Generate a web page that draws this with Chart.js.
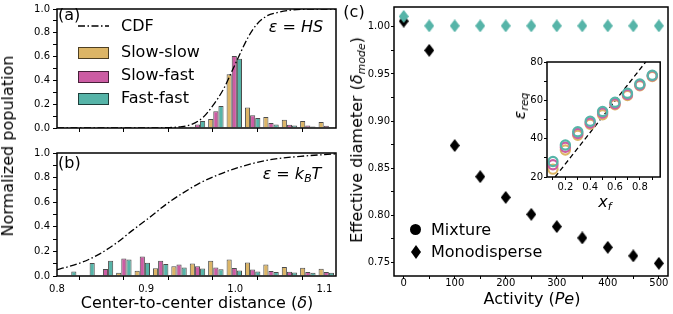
<!DOCTYPE html>
<html>
<head>
<meta charset="utf-8">
<script src="https://cdn.jsdelivr.net/npm/chart.js@4.4.1/dist/chart.umd.min.js"></script>
<style>
  html, body { margin: 0; padding: 0; background: #fff; }
  body { width: 673px; height: 314px; position: relative; overflow: hidden; font-family: "DejaVu Sans", sans-serif; color: #000; }
  .box { position: absolute; }
  .txt { position: absolute; white-space: nowrap; line-height: 1; }
  .c { transform: translate(-50%, -50%); }
  .l { transform: translateY(-50%); }
  .rot { transform: translate(-50%, -50%) rotate(-90deg); }
  sub { font-size: 68%; vertical-align: -0.28em; line-height: 0; }
  .sw { position: absolute; width: 29px; height: 10px; border: 1px solid rgba(0,0,0,0.65); }
</style>
</head>
<body>
<div class="box" style="left:0;top:0;width:340px;height:140px"><canvas id="pa"></canvas></div>
<div class="box" style="left:0;top:140px;width:340px;height:174px"><canvas id="pb"></canvas></div>
<div class="box" style="left:340px;top:0;width:333px;height:314px"><canvas id="pc"></canvas></div>
<div class="box" style="left:505px;top:55px;width:162px;height:145px"><canvas id="pin"></canvas></div>

<!-- panel labels and axis titles -->
<div class="txt rot" style="left:8px;top:146px;font-size:16px">Normalized population</div>
<div class="txt c" style="left:197px;top:303px;font-size:16px">Center-to-center distance (<i>δ</i>)</div>
<div class="txt l" style="left:58px;top:15px;font-size:16px">(a)</div>
<div class="txt c" style="left:296px;top:27px;font-size:16px"><i>ε</i> = <i>HS</i></div>
<div class="txt l" style="left:58px;top:163px;font-size:16px">(b)</div>
<div class="txt c" style="left:292px;top:174px;font-size:16px"><i>ε</i> = <i>k<sub>B</sub>T</i></div>
<div class="txt c" style="left:354px;top:12px;font-size:16px">(c)</div>
<div class="txt rot" style="left:357px;top:140px;font-size:16px">Effective diameter (<i>δ<sub>mode</sub></i>)</div>
<div class="txt c" style="left:532px;top:299px;font-size:16px">Activity (<i>Pe</i>)</div>
<div class="txt rot" style="left:520px;top:106px;font-size:16px"><i>ε<sub>req</sub></i></div>
<div class="txt c" style="left:605px;top:202px;font-size:16px"><i>x<sub>f</sub></i></div>

<!-- legend (a) -->
<svg class="txt" style="left:78px;top:24px" width="31" height="4"><line x1="0" y1="2" x2="31" y2="2" stroke="#000" stroke-width="1.5" stroke-dasharray="7 2.5 1.5 2.5"/></svg>
<div class="sw" style="left:78px;top:47px;background:#dcb566"></div>
<div class="sw" style="left:78px;top:71px;background:#cc5ca3"></div>
<div class="sw" style="left:78px;top:93px;background:#56b4a8"></div>
<div class="txt l" style="left:121px;top:26px;font-size:16px">CDF</div>
<div class="txt l" style="left:121px;top:52px;font-size:16px">Slow-slow</div>
<div class="txt l" style="left:121px;top:75px;font-size:16px">Slow-fast</div>
<div class="txt l" style="left:121px;top:98px;font-size:16px">Fast-fast</div>

<!-- legend (c) -->
<div style="position:absolute;left:410px;top:224px;width:11px;height:11px;border-radius:50%;background:#000"></div>
<svg class="txt" style="left:411px;top:245px" width="10" height="14"><polygon points="5,0 10,7 5,14 0,7" fill="#000"/></svg>
<div class="txt l" style="left:431px;top:230px;font-size:16px">Mixture</div>
<div class="txt l" style="left:431px;top:252px;font-size:16px">Monodisperse</div>

<script>
// histogram bin centres, centre-to-center distance (delta)
const binCenters = [0.8131, 0.8337, 0.8544, 0.8750, 0.8957, 0.9163, 0.9369, 0.9576, 0.9782, 0.9989, 1.0195, 1.0401, 1.0608, 1.0814, 1.1021];

// (a) epsilon = HS
const slowSlowA = [0, 0, 0, 0, 0, 0, 0.003, 0.010, 0.075, 0.452, 0.172, 0.093, 0.070, 0.058, 0.050];
const slowFastA = [0, 0, 0, 0, 0, 0, 0.005, 0.030, 0.140, 0.605, 0.108, 0.043, 0.027, 0.022, 0.018];
const fastFastA = [0, 0, 0, 0, 0, 0, 0.010, 0.058, 0.184, 0.582, 0.085, 0.030, 0.020, 0.012, 0.008];
const cdfAx = [0.80, 0.90, 0.923, 0.938, 0.951, 0.964, 0.975, 0.987, 0.994, 1.002, 1.015, 1.024, 1.035, 1.047, 1.062, 1.092, 1.113];
const cdfAy = [0, 0, 0.003, 0.010, 0.030, 0.090, 0.190, 0.330, 0.440, 0.570, 0.770, 0.870, 0.940, 0.970, 0.990, 1.0, 1.0];

// (b) epsilon = kBT
const slowSlowB = [0, 0, 0.004, 0.026, 0.042, 0.062, 0.080, 0.101, 0.125, 0.135, 0.110, 0.093, 0.074, 0.067, 0.059];
const slowFastB = [0, 0.005, 0.056, 0.142, 0.158, 0.125, 0.094, 0.079, 0.069, 0.066, 0.052, 0.041, 0.034, 0.033, 0.032];
const fastFastB = [0.036, 0.106, 0.125, 0.135, 0.108, 0.097, 0.070, 0.061, 0.054, 0.045, 0.036, 0.032, 0.029, 0.026, 0.026];
const cdfBx = [0.80, 0.8106, 0.829, 0.848, 0.867, 0.885, 0.904, 0.923, 0.942, 0.960, 0.979, 0.998, 1.035, 1.073, 1.113];
const cdfBy = [0.052, 0.071, 0.114, 0.180, 0.270, 0.373, 0.477, 0.586, 0.678, 0.755, 0.817, 0.869, 0.940, 0.973, 0.993];

// (c) effective diameter vs activity
const peValues = [0, 50, 100, 150, 200, 250, 300, 350, 400, 450, 500];
const monoDiam = [1.006, 0.975, 0.874, 0.841, 0.819, 0.801, 0.788, 0.776, 0.766, 0.757, 0.749];
const mixDiam = [1.011, 1.001, 1.001, 1.001, 1.001, 1.001, 1.001, 1.001, 1.001, 1.001, 1.001];

// inset: required epsilon vs fast fraction
const xfValues = [0.1, 0.2, 0.3, 0.4, 0.5, 0.6, 0.7, 0.8, 0.9];
const epsSlowSlow = [24.1, 34.1, 41.8, 47.5, 52.5, 57.7, 62.5, 67.6, 72.4];
const epsSlowFast = [26.4, 35.5, 42.7, 48.2, 53.4, 58.2, 63.0, 68.0, 72.8];
const epsFastFast = [28.1, 36.7, 43.6, 49.1, 54.2, 59.0, 63.7, 68.5, 73.1];
const guideX = [0.117, 0.847];
const guideY = [20, 80];

const YELLOW = '#dcb566', PINK = '#cc5ca3', TEAL = '#56b4a8';
const EDGE = 'rgba(0,0,0,0.7)';

const pts = (xs, ys) => xs.map((x, i) => ({x: x, y: ys[i]}));
const every = (step, digits) => v => Math.abs(v / step - Math.round(v / step)) < 1e-6 ? v.toFixed(digits) : '';

// black frame round the plot area, white plot background
const frame = {
    id: 'frame',
    beforeDraw(chart) {
        const {ctx, chartArea: a} = chart;
        ctx.save();
        ctx.fillStyle = '#fff';
        ctx.fillRect(a.left, a.top, a.right - a.left, a.bottom - a.top);
        ctx.restore();
    },
    afterDraw(chart) {
        const {ctx, chartArea: a} = chart;
        ctx.save();
        ctx.strokeStyle = '#000';
        ctx.lineWidth = 1.5;
        ctx.strokeRect(a.left, a.top, a.right - a.left, a.bottom - a.top);
        ctx.restore();
    }
};

function axis(min, max, step, label, fitSize, horizontal, tickLen, pad) {
    return {
        type: 'linear',
        min: min,
        max: max,
        offset: false,
        grid: { display: true, drawOnChartArea: false, drawTicks: true, tickLength: tickLen, tickColor: '#000', tickWidth: 1 },
        border: { display: false },
        ticks: {
            stepSize: step,
            callback: label,
            color: '#000',
            font: { family: 'DejaVu Sans', size: 10 },
            padding: pad,
            autoSkip: false,
            maxRotation: 0,
            includeBounds: false,
            maxTicksLimit: 100
        },
        afterFit: s => { if (horizontal) s.height = fitSize; else s.width = fitSize; }
    };
}

function diamond(color, w, h) {
    const c = document.createElement('canvas');
    c.width = w; c.height = h;
    const g = c.getContext('2d');
    g.fillStyle = color;
    g.beginPath();
    g.moveTo(w / 2, 0); g.lineTo(w, h / 2); g.lineTo(w / 2, h); g.lineTo(0, h / 2);
    g.closePath();
    g.fill();
    return c;
}

function histChart(id, yel, pin, tea, cx, cy, xLabels, padTop, xHeight) {
    const bar = (data, color) => ({
        type: 'bar', data: pts(binCenters, data), backgroundColor: color,
        borderColor: EDGE, borderWidth: 1, borderSkipped: 'start', order: 1,
        categoryPercentage: 0.84, barPercentage: 1.0
    });
    return new Chart(document.getElementById(id).getContext('2d'), {
        type: 'bar',
        data: {
            datasets: [
                {
                    type: 'line', data: pts(cx, cy), borderColor: '#000', borderWidth: 1.3,
                    borderDash: [7, 2.5, 1.5, 2.5], pointRadius: 0, cubicInterpolationMode: 'monotone', order: 0
                },
                bar(yel, YELLOW),
                bar(pin, PINK),
                bar(tea, TEAL)
            ]
        },
        options: {
            responsive: true,
            maintainAspectRatio: false,
            animation: false,
            layout: { padding: { left: 0, top: padTop, right: 4, bottom: 0 } },
            plugins: { legend: { display: false }, tooltip: { enabled: false } },
            scales: {
                x: axis(0.8, 1.113, 0.05, xLabels, xHeight, true, 4, 3),
                y: axis(0, 1.0, 0.1, every(0.2, 1), 57, false, 4, 3)
            }
        },
        plugins: [frame]
    });
}

histChart('pa', slowSlowA, slowFastA, fastFastA, cdfAx, cdfAy, () => '', 6, 12);
histChart('pb', slowSlowB, slowFastB, fastFastB, cdfBx, cdfBy, every(0.1, 1), 13, 38);

// panel (c)
new Chart(document.getElementById('pc').getContext('2d'), {
    type: 'scatter',
    data: {
        datasets: [
            { data: pts(peValues, mixDiam), pointStyle: diamond(TEAL, 10, 13), order: 0, clip: false },
            { data: pts(peValues, monoDiam), pointStyle: diamond('#000', 10, 13), order: 1, clip: false }
        ]
    },
    options: {
        responsive: true,
        maintainAspectRatio: false,
        animation: false,
        layout: { padding: { left: 0, top: 5, right: 2, bottom: 0 } },
        plugins: { legend: { display: false }, tooltip: { enabled: false } },
        scales: {
            x: axis(-19, 518, 50, every(100, 0), 38, true, 3, -2),
            y: axis(0.7356, 1.021, 0.025, every(0.05, 2), 54, false, 3, 1)
        }
    },
    plugins: [frame]
});

// inset
const ring = (data, color, ord) => ({
    type: 'scatter', data: pts(xfValues, data), pointStyle: 'circle', pointRadius: 4.6,
    pointBorderWidth: 2.2, pointBorderColor: color, pointBackgroundColor: 'rgba(0,0,0,0)', order: ord, clip: false
});
new Chart(document.getElementById('pin').getContext('2d'), {
    type: 'scatter',
    data: {
        datasets: [
            ring(epsFastFast, TEAL, 0),
            ring(epsSlowFast, PINK, 1),
            ring(epsSlowSlow, YELLOW, 2),
            {
                type: 'line', data: pts(guideX, guideY), borderColor: '#000', borderWidth: 1.3,
                borderDash: [5, 3], pointRadius: 0, order: 3
            }
        ]
    },
    options: {
        responsive: true,
        maintainAspectRatio: false,
        animation: false,
        layout: { padding: { left: 0, top: 6, right: 4, bottom: 0 } },
        plugins: { legend: { display: false }, tooltip: { enabled: false } },
        scales: {
            x: axis(0.052, 0.964, 0.1, every(0.2, 1), 23, true, 3, 1),
            y: axis(20, 80, 10, every(20, 0), 42, false, 3, 1)
        }
    },
    plugins: [frame]
});
</script>
</body>
</html>
